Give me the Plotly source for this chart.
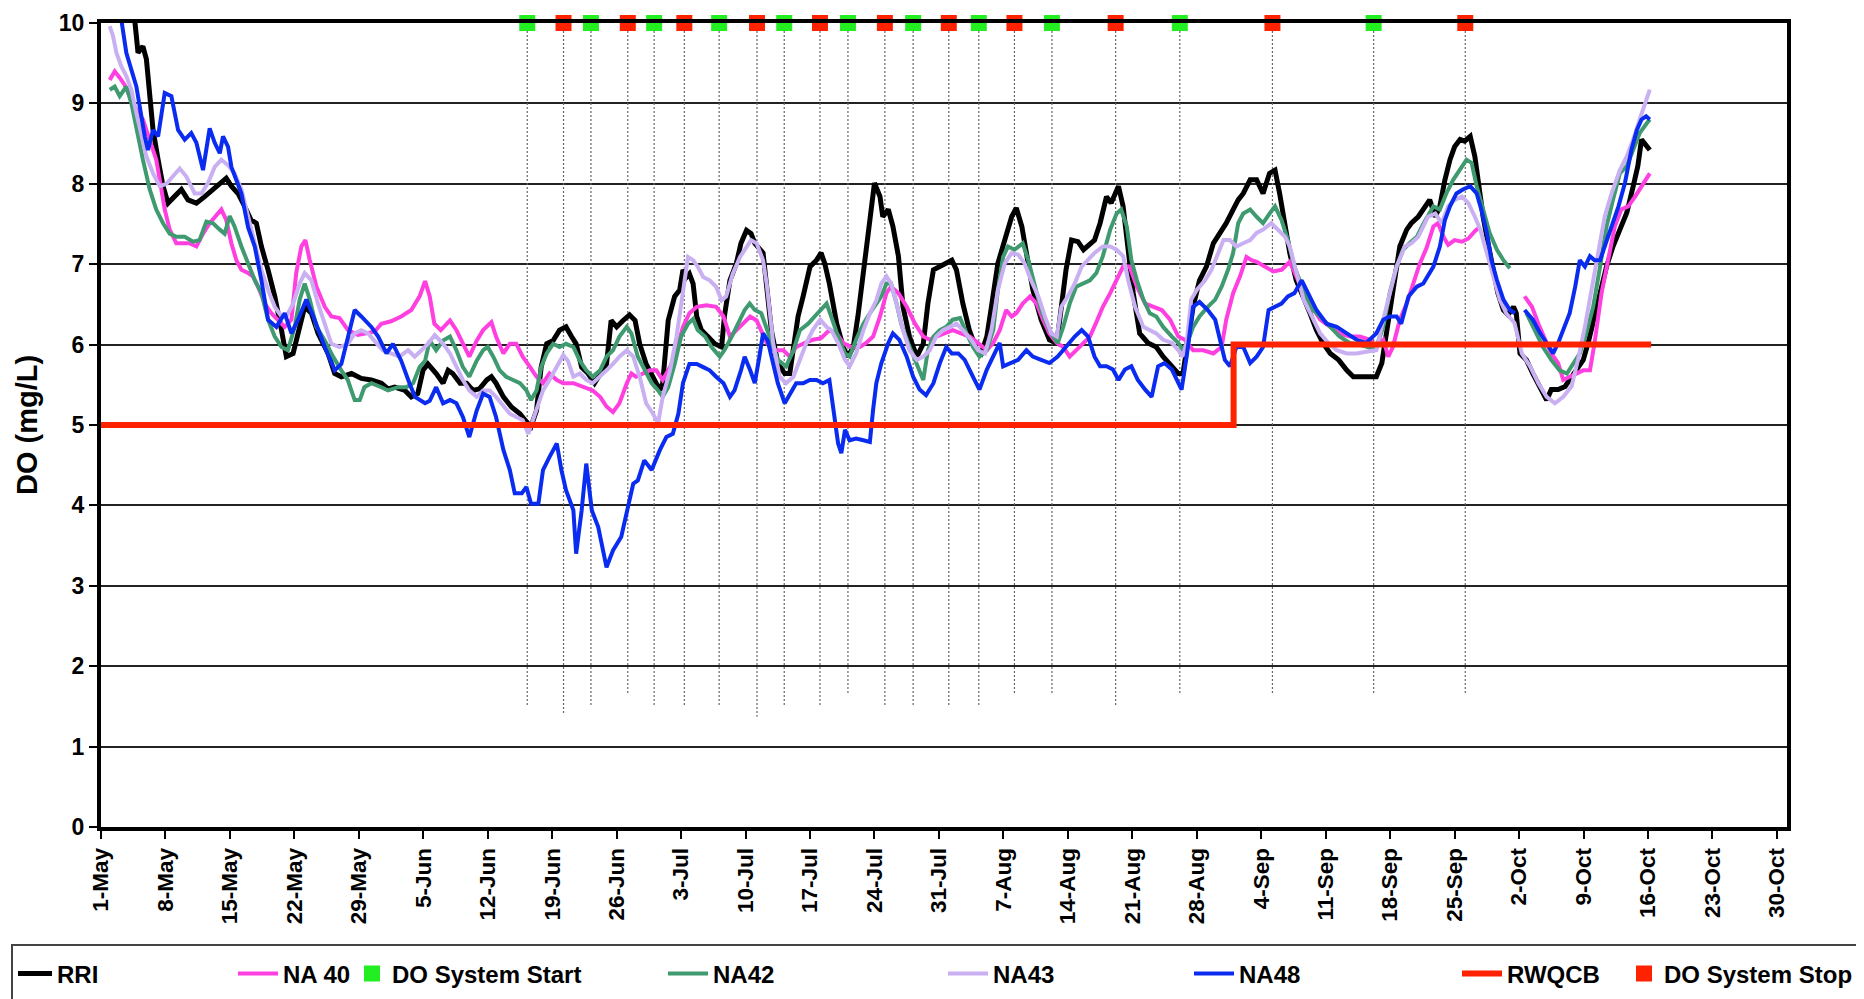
import pandas as pd
import plotly.graph_objects as go

BASE = pd.Timestamp("2007-05-01")

# ---------------- data (day offset from 1-May, DO in mg/L) ----------------
rri_day = [2.0, 3.4, 3.66, 4.02, 4.55, 4.93, 5.29, 5.65, 6.2, 6.74, 7.28, 8.0, 8.73, 9.45, 10.36, 11.26, 12.17, 12.9, 13.6, 14.16, 14.88, 15.6, 16.3, 16.87, 17.42, 18.14, 18.87, 19.6, 20.13, 20.86, 21.4, 22.12, 22.85, 23.57, 24.66, 25.38, 26.1, 27.2, 28.27, 29.36, 30.45, 31.17, 31.9, 33.0, 33.7, 34.4, 34.97, 35.5,
           36.4, 37.15, 37.7, 38.2, 39.0, 39.7, 40.4, 41.1, 41.9, 42.4, 42.9, 43.7, 44.6, 45.5, 46.2, 46.7, 47.3, 47.8, 48.4, 49.1, 49.8, 50.5, 51.1, 51.6, 52.2, 52.9, 53.6, 54.2, 54.9, 55.4, 56.0, 56.7, 57.4, 58.0, 58.5, 59.2, 59.95, 60.7, 61.0, 61.6, 62.3, 62.85, 63.2, 63.6, 63.9, 64.3, 64.7, 65.2, 65.9, 66.65, 67.4, 67.7, 68.3, 69.0, 69.5, 70.1, 70.6, 71.0,
           71.9, 72.3, 72.8, 73.5, 74.25, 74.8, 75.2, 75.7, 76.25, 77.0, 77.7, 78.2, 78.6, 79.1, 79.9, 80.6, 81.1, 81.7, 82.2, 82.9, 83.5, 84.0, 84.6, 84.9, 85.5, 86.0, 86.6, 87.1, 87.8, 88.6, 89.3, 89.8, 90.4, 91.1, 91.8, 92.4, 92.9, 93.6, 94.3, 95.1, 95.6, 96.2, 96.7, 97.4, 98.15, 98.9, 99.4, 100.0, 100.5, 101.2, 102.1, 103.0, 103.8, 104.3, 104.8, 105.4, 106.1, 106.7, 107.4,
           107.9, 108.5, 109.2, 109.7, 110.5, 111.0, 111.55, 112.1, 112.8, 113.7, 114.6, 115.35, 116.3, 117.0, 117.5, 118.1, 118.6, 119.3, 120.05, 120.8, 121.5, 122.2, 122.95, 123.5, 124.05, 124.8, 125.5, 126.2, 126.9, 127.5, 128.0, 128.6, 129.1, 129.8, 130.6, 131.3, 132.0, 132.7, 133.5, 134.4, 135.3, 136.0, 136.9, 137.8, 138.5, 139.1, 139.6, 140.3, 141.05, 141.8, 142.3, 143.05,
           143.8, 144.3, 144.9, 145.4, 145.95, 146.5, 147.0, 147.6, 148.1, 148.7, 149.2, 149.6, 150.1, 150.7, 151.2, 151.7, 152.3, 152.8, 153.4, 153.7, 154.1, 154.8, 155.5, 156.3, 157.0, 157.5, 158.25, 159.0, 159.7, 160.4, 160.97, 161.5, 162.05, 162.8, 163.5, 164.2, 164.95, 165.7, 166.4, 166.9, 167.3, 167.7, 168.2]
rri_do = [10.6, 10.1, 10.04, 9.63, 9.71, 9.55, 9.13, 8.67, 8.3, 7.97, 7.76, 7.84, 7.93, 7.8, 7.76, 7.84, 7.93, 8.01, 8.07, 7.97, 7.88, 7.72, 7.55, 7.51, 7.22, 6.93, 6.6, 6.18, 5.85, 5.89, 6.14, 6.47, 6.39, 6.14, 5.89, 5.64, 5.6, 5.64, 5.58, 5.56, 5.52, 5.45, 5.47, 5.43, 5.35, 5.39, 5.68, 5.76,
          5.64, 5.52, 5.68, 5.64, 5.52, 5.52, 5.43, 5.45, 5.56, 5.6, 5.52, 5.35, 5.22, 5.14, 5.04, 4.98, 5.18, 5.72, 6.01, 6.05, 6.18, 6.22, 6.1, 6.01, 5.72, 5.64, 5.52, 5.64, 5.76, 6.3, 6.22, 6.3, 6.37, 6.3, 6.01, 5.76, 5.6, 5.43, 5.52, 6.3, 6.6, 6.68, 6.93, 6.84, 6.88, 6.76, 6.35, 6.18, 6.1, 6.01, 5.97, 6.35, 6.8, 7.01, 7.26, 7.42, 7.38, 7.26,
          7.14, 6.68, 6.18, 5.77, 5.64, 5.64, 5.97, 6.35, 6.6, 6.97, 7.05, 7.14, 7.01, 6.76, 6.26, 5.97, 5.85, 5.97, 6.35, 7.01, 7.59, 8.01, 7.84, 7.59, 7.68, 7.47, 7.1, 6.47, 6.1, 5.85, 6.01, 6.51, 6.93, 6.97, 7.01, 7.05, 6.93, 6.51, 6.18, 5.93, 5.89, 6.1, 6.47, 7.01, 7.3, 7.59, 7.7, 7.47, 7.14, 6.68, 6.31, 6.06, 6.02, 6.51, 6.93, 7.3, 7.28, 7.18, 7.26,
          7.3, 7.51, 7.84, 7.76, 7.97, 7.72, 7.14, 6.64, 6.14, 6.02, 5.97, 5.85, 5.73, 5.64, 5.64, 6.1, 6.47, 6.8, 6.97, 7.26, 7.39, 7.51, 7.68, 7.8, 7.88, 8.05, 8.05, 7.88, 8.13, 8.17, 7.88, 7.47, 7.14, 6.8, 6.6, 6.39, 6.18, 6.02, 5.89, 5.81, 5.68, 5.6, 5.6, 5.6, 5.6, 5.77, 6.14, 6.72, 7.22, 7.43, 7.51, 7.59,
          7.72, 7.8, 7.59, 7.72, 8.05, 8.3, 8.46, 8.55, 8.53, 8.59, 8.34, 7.97, 7.59, 7.22, 6.89, 6.64, 6.43, 6.37, 6.47, 6.39, 5.89, 5.81, 5.64, 5.48, 5.31, 5.44, 5.44, 5.48, 5.6, 5.73, 5.81, 6.02, 6.31, 6.64, 6.97, 7.22, 7.43, 7.64, 7.97, 8.22, 8.55, 8.5, 8.42]

na40_day = [0.95, 1.49, 2.03, 2.57, 3.12, 4.02, 4.55, 5.29, 6.0, 6.56, 6.92, 7.46, 8.18, 8.9, 9.6, 10.36, 11.08, 11.8, 12.5, 13.07, 13.6, 14.16, 14.7, 15.25, 15.97, 16.5, 17.06, 17.8, 18.5, 19.2, 19.95, 20.68, 21.2, 21.76, 22.2, 22.67, 23.4, 24.3, 25.02, 25.9, 26.83, 27.9, 28.6, 29.7, 30.45, 31.5, 32.6, 33.7, 34.6, 35.2,
            35.7, 36.2, 36.9, 37.9, 38.6, 39.3, 40.0, 40.8, 41.5, 42.4, 42.9, 43.7, 44.4, 45.1, 45.8, 46.6, 47.3, 48.0, 48.7, 49.5, 50.2, 51.3, 52.35, 53.4, 54.2, 54.9, 55.6, 56.3, 57.1, 57.6, 58.1, 58.9, 59.6, 60.3, 61.0, 61.8, 62.5, 63.2, 63.9, 64.7, 65.75, 66.8, 67.6, 68.3, 69.0, 69.7, 70.5, 71.2,
            72.3, 73.2, 74.1, 74.8, 75.5, 76.4, 77.3, 78.2, 79.1, 79.9, 80.6, 81.5, 82.4, 83.1, 83.85, 84.6, 85.3, 85.8, 86.6, 87.5, 88.4, 89.3, 90.0, 90.7, 91.6, 92.5, 93.4, 94.35, 95.25, 96.2, 96.9, 97.6, 98.3, 98.9, 99.4, 100.1, 100.9, 101.6, 102.3, 103.0, 103.8, 104.5, 105.2, 105.9, 106.7, 107.4,
            108.1, 108.8, 109.6, 110.3, 111.0, 111.7, 112.5, 113.4, 114.3, 115.2, 116.1, 117.0, 117.7, 118.6, 119.7, 120.8, 121.7, 122.2, 122.95, 123.7, 124.4, 124.95, 125.5, 126.4, 127.3, 128.2, 129.1, 129.8, 130.6, 131.5, 132.4, 133.5, 134.5, 135.6, 136.7, 137.8, 138.5, 139.25, 139.8, 140.3, 141.05, 141.8, 142.5, 143.2, 143.95, 144.7, 145.2, 145.8, 146.3, 147.0, 147.8, 148.5, 149.2, 149.6,
            151.5,
            154.6, 155.4, 156.1, 156.8, 157.5, 158.25, 158.8, 159.5, 160.2, 160.97, 161.7, 162.2, 162.96, 163.7, 164.4, 165.1, 165.85, 166.6, 167.3, 167.85, 168.2]
na40_do = [9.29, 9.4, 9.32, 9.23, 9.09, 8.88, 8.8, 8.55, 8.3, 7.93, 7.68, 7.43, 7.26, 7.26, 7.26, 7.22, 7.38, 7.51, 7.6, 7.68, 7.55, 7.26, 7.05, 6.93, 6.89, 6.85, 6.72, 6.51, 6.39, 6.31, 6.22, 6.31, 6.89, 7.22, 7.3, 7.05, 6.72, 6.47, 6.35, 6.33, 6.18, 6.12, 6.14, 6.16, 6.26, 6.29, 6.35, 6.43, 6.6, 6.79,
           6.6, 6.26, 6.18, 6.3, 6.18, 6.01, 5.85, 6.05, 6.18, 6.28, 6.1, 5.89, 6.01, 6.01, 5.85, 5.72, 5.6, 5.52, 5.64, 5.56, 5.52, 5.52, 5.47, 5.43, 5.35, 5.23, 5.16, 5.27, 5.52, 5.64, 5.6, 5.64, 5.68, 5.68, 5.56, 5.72, 5.93, 6.22, 6.39, 6.47, 6.49, 6.47, 6.35, 6.1, 6.18, 6.26, 6.35, 6.3,
           6.02, 5.93, 5.93, 5.85, 5.97, 6.02, 6.06, 6.08, 6.18, 6.14, 6.02, 5.97, 5.97, 6.02, 6.1, 6.35, 6.64, 6.72, 6.64, 6.47, 6.26, 6.1, 6.06, 6.1, 6.14, 6.18, 6.14, 6.1, 6.02, 5.93, 6.02, 6.18, 6.43, 6.35, 6.39, 6.51, 6.6, 6.51, 6.31, 6.14, 6.02, 5.97, 5.85, 5.93, 6.02, 6.1,
           6.28, 6.47, 6.64, 6.8, 6.97, 6.97, 6.72, 6.51, 6.47, 6.43, 6.31, 6.1, 6.06, 5.93, 5.93, 5.89, 5.97, 6.31, 6.64, 6.85, 7.09, 7.05, 7.03, 6.97, 6.91, 6.93, 7.03, 6.85, 6.64, 6.47, 6.31, 6.22, 6.14, 6.1, 6.1, 6.06, 5.97, 6.06, 5.85, 5.97, 6.31, 6.51, 6.76, 7.0, 7.2, 7.47, 7.51, 7.34, 7.24, 7.3, 7.28, 7.32, 7.41, 7.45,
           None,
           6.6, 6.47, 6.26, 6.06, 5.89, 5.77, 5.56, 5.6, 5.64, 5.68, 5.68, 6.02, 6.64, 7.05, 7.47, 7.68, 7.72, 7.84, 7.97, 8.05, 8.13]

na42_day = [0.95, 1.49, 2.03, 2.75, 3.3, 3.84, 4.55, 5.29, 6.0, 6.74, 7.46, 8.18, 9.1, 10.0, 10.7, 11.44, 12.17, 12.9, 13.43, 13.98, 14.5, 15.25, 15.97, 16.7, 17.42, 18.14, 18.87, 19.6, 20.3, 21.04, 21.58, 22.12, 22.67, 23.4, 24.3, 25.2, 26.1, 26.8, 27.55, 28.1, 28.6, 29.36, 30.45, 31.17, 32.26, 33.16, 33.9, 34.6, 35.2,
            35.7, 36.4, 37.15, 37.9, 38.6, 39.3, 40.0, 40.8, 41.5, 42.0, 42.6, 43.3, 44.0, 44.75, 45.5, 46.2, 46.7, 47.3, 47.8, 48.4, 49.1, 49.8, 50.5, 51.3, 52.0, 52.7, 53.4, 54.2, 54.9, 55.6, 56.3, 57.1, 57.6, 58.3, 59.05, 59.8, 60.5, 61.0, 61.6, 62.3, 63.0, 63.75, 64.3, 64.8, 65.6, 66.3, 67.2, 67.7, 68.5, 69.2, 69.9, 70.45, 71.0, 71.7,
            72.1, 72.8, 73.5, 74.4, 75.2, 75.9, 76.8, 77.5, 78.2, 78.8, 79.3, 80.05, 80.8, 81.3, 82.0, 82.8, 83.5, 84.2, 84.75, 85.3, 85.8, 86.4, 86.9, 87.65, 88.4, 88.9, 89.3, 89.8, 90.4, 91.1, 91.8, 92.5, 93.3, 94.0, 94.7, 95.4, 96.2, 96.9, 97.4, 97.97, 98.5, 99.2, 100.1, 100.7, 101.4, 102.1, 103.0, 103.9, 104.5, 105.2, 105.9, 106.7, 107.4,
            108.1, 108.8, 109.6, 110.3, 110.8, 111.4, 111.9, 112.5, 113.2, 113.9, 114.6, 115.35, 116.3, 117.0, 117.5, 118.1, 118.6, 119.3, 120.2, 121.0, 121.7, 122.4, 122.95, 123.5, 124.05, 124.8, 125.5, 126.2, 126.9, 127.5, 128.2, 128.9, 129.6, 130.4, 131.3, 132.4, 133.5, 134.5, 135.6, 136.7, 137.8, 138.5, 139.25, 139.95, 140.7, 141.4, 142.1, 142.9, 143.6,
            144.3, 144.7, 145.4, 146.1, 146.85, 147.6, 148.3, 148.85, 149.4, 150.1, 150.8, 151.6, 152.3, 153.0,
            153.9,
            154.8, 155.7, 156.6, 157.5, 158.4, 159.2, 159.9, 160.6, 161.3, 162.05, 162.8, 163.5, 164.2, 164.95, 165.7, 166.4, 167.1, 167.85, 168.2]
na42_do = [9.17, 9.21, 9.09, 9.21, 9.0, 8.67, 8.3, 7.93, 7.68, 7.51, 7.38, 7.34, 7.34, 7.28, 7.3, 7.53, 7.51, 7.43, 7.38, 7.6, 7.47, 7.22, 7.01, 6.8, 6.64, 6.31, 6.1, 5.97, 5.93, 6.22, 6.56, 6.76, 6.56, 6.22, 6.05, 5.85, 5.68, 5.56, 5.31, 5.31, 5.47, 5.52, 5.47, 5.43, 5.47, 5.47, 5.52, 5.72, 5.8,
           6.05, 5.93, 6.05, 6.1, 5.93, 5.72, 5.6, 5.8, 5.93, 5.97, 5.85, 5.68, 5.6, 5.56, 5.52, 5.43, 5.31, 5.43, 5.72, 5.89, 6.01, 5.97, 6.01, 5.97, 5.8, 5.68, 5.6, 5.68, 5.85, 5.93, 6.1, 6.22, 6.14, 5.85, 5.68, 5.52, 5.43, 5.35, 5.47, 5.76, 6.1, 6.26, 6.32, 6.18, 6.1, 5.97, 5.85, 5.93, 6.1, 6.26, 6.43, 6.51, 6.43, 6.39,
           6.26, 6.02, 5.81, 5.73, 5.93, 6.18, 6.26, 6.35, 6.43, 6.51, 6.35, 6.1, 5.89, 5.85, 6.06, 6.26, 6.39, 6.51, 6.6, 6.76, 6.76, 6.51, 6.26, 6.02, 5.81, 5.69, 5.56, 5.93, 6.1, 6.18, 6.22, 6.31, 6.33, 6.14, 5.97, 5.85, 5.93, 6.18, 6.68, 7.09, 7.22, 7.18, 7.26, 7.05, 6.76, 6.43, 6.18, 6.02, 6.22, 6.51, 6.72, 6.76, 6.8,
           6.89, 7.1, 7.43, 7.63, 7.68, 7.47, 7.05, 6.8, 6.56, 6.39, 6.35, 6.22, 6.1, 6.02, 5.93, 6.06, 6.22, 6.35, 6.47, 6.56, 6.72, 6.93, 7.14, 7.51, 7.63, 7.68, 7.59, 7.51, 7.63, 7.72, 7.55, 7.3, 6.97, 6.72, 6.47, 6.35, 6.22, 6.1, 6.02, 6.0, 5.96, 5.97, 6.22, 6.64, 6.97, 7.18, 7.26, 7.34, 7.5,
           7.65, 7.72, 7.68, 7.88, 8.05, 8.17, 8.3, 8.26, 7.97, 7.68, 7.39, 7.18, 7.05, 6.95,
           None,
           6.39, 6.18, 5.97, 5.81, 5.68, 5.64, 5.77, 5.89, 6.14, 6.47, 6.97, 7.47, 7.8, 8.13, 8.22, 8.42, 8.63, 8.75, 8.8]

na43_day = [0.95, 1.3, 1.67, 2.21, 2.75, 3.3, 3.84, 4.38, 4.93, 5.65, 6.38, 7.1, 7.82, 8.55, 9.27, 10.18, 10.9, 11.62, 12.35, 13.07, 13.8, 14.5, 15.25, 15.97, 16.7, 17.42, 18.14, 18.87, 19.6, 20.13, 20.86, 21.58, 22.12, 22.85, 23.57, 24.3, 25.02, 25.9, 26.83, 27.55, 28.27, 29.0, 29.7, 30.6, 31.5, 32.4, 33.35, 34.07, 34.8, 35.5,
            36.25, 37.15, 37.9, 38.6, 39.3, 40.0, 40.8, 41.5, 42.2, 42.9, 43.7, 44.4, 45.1, 45.8, 46.4, 46.9, 47.5, 48.0, 48.7, 49.5, 50.2, 50.7, 51.3, 52.0, 52.7, 53.4, 54.2, 54.9, 55.6, 56.3, 57.1, 57.8, 58.5, 59.2, 59.95, 60.5, 61.0, 61.8, 62.5, 63.2, 63.75, 64.3, 64.8, 65.4, 66.1, 66.8, 67.4, 67.9, 68.6, 69.4, 70.1, 70.6, 71.2, 71.9,
            72.3, 73.0, 73.7, 74.4, 75.2, 75.9, 76.6, 77.3, 78.1, 78.8, 79.3, 80.05, 80.8, 81.3, 82.0, 82.8, 83.5, 84.2, 84.75, 85.3, 85.8, 86.4, 87.1, 87.8, 88.6, 89.3, 90.0, 90.7, 91.45, 92.2, 92.9, 93.6, 94.5, 95.25, 96.0, 96.7, 97.4, 98.15, 98.9, 99.6, 100.3, 101.0, 101.8, 102.5, 103.2, 103.8, 104.3, 105.0, 105.75, 106.5, 107.2, 107.9,
            108.8, 109.6, 110.3, 111.0, 111.55, 112.3, 113.2, 113.9, 114.6, 115.35, 116.3, 117.0, 117.45, 117.9, 118.4, 119.0, 119.9, 120.6, 121.3, 121.9, 122.6, 123.3, 124.05, 124.8, 125.5, 126.2, 127.1, 127.85, 128.6, 129.1, 129.8, 130.6, 131.5, 132.4, 133.3, 134.2, 135.3, 136.35, 137.4, 138.5, 139.25, 139.95, 140.7, 141.6, 142.3, 143.05,
            144.1, 144.9, 145.6, 146.3, 147.0, 147.8, 148.5, 149.2, 149.8, 150.5, 151.2, 151.9, 152.6, 153.5, 154.3, 155.2, 156.1, 157.0, 157.9, 158.8, 159.7, 160.4, 161.15, 161.9, 162.6, 163.3, 164.05, 164.95, 165.7, 166.4, 167.1, 167.7, 168.2]
na43_do = [9.96, 9.84, 9.63, 9.46, 9.34, 9.17, 8.88, 8.59, 8.34, 8.13, 7.97, 8.0, 8.09, 8.19, 8.09, 7.88, 7.88, 8.01, 8.21, 8.3, 8.23, 8.13, 7.93, 7.6, 7.26, 6.93, 6.68, 6.47, 6.35, 6.35, 6.51, 6.76, 6.89, 6.8, 6.51, 6.26, 6.01, 5.97, 6.01, 6.14, 6.18, 6.14, 6.05, 5.93, 5.89, 5.85, 5.93, 5.85, 5.93, 6.01,
           6.12, 6.01, 5.89, 5.72, 5.56, 5.43, 5.35, 5.43, 5.43, 5.35, 5.23, 5.14, 5.1, 5.06, 4.89, 5.06, 5.27, 5.43, 5.56, 5.72, 5.87, 5.8, 5.6, 5.64, 5.56, 5.52, 5.6, 5.68, 5.76, 5.85, 5.93, 5.85, 5.6, 5.27, 5.14, 5.02, 5.35, 5.68, 6.1, 6.68, 7.09, 7.05, 6.97, 6.84, 6.8, 6.72, 6.55, 6.6, 6.88, 7.09, 7.22, 7.3, 7.26, 7.05,
           6.75, 6.02, 5.6, 5.52, 5.6, 5.81, 6.02, 6.18, 6.31, 6.22, 6.18, 6.02, 5.81, 5.73, 5.89, 6.18, 6.39, 6.55, 6.76, 6.85, 6.76, 6.51, 6.18, 5.93, 5.81, 5.85, 5.93, 6.1, 6.18, 6.22, 6.26, 6.18, 6.06, 5.93, 5.89, 6.18, 6.68, 7.01, 7.14, 7.12, 7.01, 6.8, 6.6, 6.35, 6.14, 6.1, 6.47, 6.6, 6.76, 6.97, 7.05, 7.14,
           7.22, 7.22, 7.18, 7.1, 6.8, 6.47, 6.22, 6.18, 6.14, 6.06, 6.02, 5.93, 5.85, 6.02, 6.56, 6.68, 6.8, 6.93, 7.14, 7.3, 7.3, 7.22, 7.26, 7.3, 7.39, 7.43, 7.51, 7.43, 7.34, 7.22, 6.89, 6.56, 6.35, 6.14, 6.02, 5.93, 5.89, 5.89, 5.91, 5.93, 6.31, 6.64, 6.97, 7.22, 7.26, 7.34,
           7.59, 7.63, 7.51, 7.72, 7.8, 7.84, 7.76, 7.59, 7.43, 7.14, 6.85, 6.56, 6.39, 6.27, 5.89, 5.73, 5.52, 5.35, 5.27, 5.35, 5.48, 5.81, 6.22, 6.72, 7.18, 7.59, 7.88, 8.17, 8.34, 8.55, 8.8, 9.0, 9.17]

na48_day = [1.0, 2.21, 2.75, 3.84, 4.75, 5.1, 5.65, 6.2, 6.92, 7.64, 8.37, 9.09, 9.8, 10.36, 11.08, 11.8, 12.35, 12.9, 13.25, 13.8, 14.16, 15.25, 15.97, 16.7, 17.42, 18.14, 19.05, 19.95, 20.68, 21.4, 22.3, 23.2, 24.3, 25.38, 26.1, 26.8, 27.55, 28.27, 29.36, 30.1, 31.0, 31.7, 32.6, 33.5, 34.1, 35.2,
            35.7, 36.4, 37.15, 37.9, 38.6, 39.3, 40.0, 40.8, 41.5, 42.2, 42.9, 43.7, 44.4, 44.93, 45.7, 46.2, 46.7, 47.5, 48.0, 48.7, 49.5, 50.0, 50.5, 51.3, 51.6, 52.2, 52.7, 53.3, 54.0, 54.9, 55.6, 56.5, 57.2, 57.8, 58.3, 59.0, 59.8, 60.7, 61.4, 62.1, 62.7, 63.2, 63.9, 64.7, 65.4, 66.1, 66.8, 67.6, 68.3, 68.8, 69.5, 69.9, 70.5, 71.0, 71.5, 71.9,
            72.4, 72.8, 73.5, 74.25, 74.8, 75.5, 76.25, 76.97, 77.7, 78.4, 79.1, 79.7, 80.05, 80.4, 80.8, 81.3, 82.0, 82.8, 83.5, 83.85, 84.2, 84.75, 85.5, 86.0, 86.7, 87.5, 88.2, 88.9, 89.6, 90.4, 91.1, 91.8, 92.4, 93.1, 93.8, 94.7, 95.4, 96.2, 96.9, 97.6, 97.97, 98.7, 99.6, 100.5, 101.2, 102.1, 103.0, 103.9, 104.8, 105.75, 106.5, 107.2,
            107.9, 108.5, 109.2, 109.9, 110.5, 111.2, 111.9, 112.6, 113.4, 114.1, 114.8, 115.5, 116.3, 117.0, 117.35, 117.9, 118.6, 119.3, 120.2, 121.0, 121.5, 122.05, 122.6, 123.3, 124.05, 124.8, 125.5, 126.2, 126.8, 127.5, 128.2, 128.9, 129.6, 130.4, 131.1, 132.0, 133.1, 134.2, 135.3, 136.35, 137.4, 138.5, 139.25, 139.95, 140.7, 141.2, 142.0, 142.9, 143.6,
            144.7, 145.4, 145.95, 146.5, 147.2, 147.9, 148.7, 149.4, 149.9, 150.5, 151.0, 151.6, 152.3, 153.0, 153.55,
            154.1,
            154.6, 155.5, 156.3, 157.0, 157.7, 158.25, 158.8, 159.5, 160.1, 160.6, 161.15, 161.7, 162.2, 162.8, 163.3, 164.05, 164.8, 165.5, 166.2, 166.8, 167.3, 167.8, 168.2]
na48_do = [10.6, 10.04, 9.63, 9.21, 8.59, 8.42, 8.67, 8.59, 9.13, 9.09, 8.67, 8.55, 8.63, 8.51, 8.17, 8.69, 8.51, 8.38, 8.59, 8.46, 8.21, 7.88, 7.46, 7.22, 6.8, 6.31, 6.22, 6.39, 6.14, 6.31, 6.56, 6.31, 5.97, 5.68, 5.76, 6.1, 6.43, 6.35, 6.22, 6.1, 5.89, 6.01, 5.8, 5.52, 5.35, 5.27,
           5.3, 5.47, 5.27, 5.31, 5.27, 5.1, 4.85, 5.18, 5.39, 5.35, 5.1, 4.69, 4.44, 4.15, 4.15, 4.23, 4.02, 4.02, 4.44, 4.6, 4.77, 4.44, 4.19, 3.94, 3.4, 3.94, 4.52, 3.94, 3.73, 3.23, 3.44, 3.61, 3.94, 4.27, 4.31, 4.56, 4.44, 4.69, 4.85, 4.89, 5.14, 5.52, 5.76, 5.76, 5.72, 5.68, 5.6, 5.52, 5.35, 5.43, 5.68, 5.85, 5.68, 5.52, 5.85, 6.14,
           6.05, 5.85, 5.52, 5.27, 5.39, 5.52, 5.52, 5.56, 5.56, 5.52, 5.56, 5.1, 4.77, 4.65, 4.94, 4.81, 4.83, 4.81, 4.79, 5.19, 5.52, 5.77, 6.02, 6.14, 6.06, 5.85, 5.6, 5.44, 5.37, 5.52, 5.77, 5.97, 5.89, 5.89, 5.81, 5.6, 5.44, 5.69, 5.85, 6.02, 5.73, 5.77, 5.81, 5.93, 5.85, 5.81, 5.77, 5.85, 5.97, 6.1, 6.18, 6.1,
           5.85, 5.73, 5.73, 5.69, 5.56, 5.69, 5.73, 5.56, 5.44, 5.35, 5.73, 5.77, 5.69, 5.52, 5.44, 5.85, 6.47, 6.53, 6.43, 6.31, 6.06, 5.81, 5.73, 5.97, 5.97, 5.77, 5.85, 5.97, 6.43, 6.47, 6.51, 6.6, 6.64, 6.8, 6.64, 6.43, 6.26, 6.22, 6.14, 6.06, 6.02, 6.14, 6.31, 6.35, 6.35, 6.26, 6.6, 6.72, 6.76,
           6.97, 7.22, 7.55, 7.72, 7.88, 7.93, 7.97, 7.88, 7.68, 7.39, 7.05, 6.8, 6.56, 6.43, 6.39,
           None,
           6.43, 6.31, 6.14, 6.02, 5.89, 6.02, 6.18, 6.39, 6.72, 7.05, 6.97, 7.1, 7.05, 7.05, 7.22, 7.47, 7.72, 8.01, 8.42, 8.67, 8.8, 8.84, 8.8]

rwqcb_day = [0.0, 123.0, 168.35]
rwqcb_do = [5.0, 6.0, 6.0]

start_day = [46.29, 53.21, 60.07, 67.13, 74.2, 81.12, 88.2, 95.33, 103.27, 117.16, 138.21]
start_drop_to = [1.51, 1.51, 1.51, 1.51, 1.51, 1.66, 1.51, 1.51, 1.66, 1.66, 1.66]
stop_day = [50.23, 57.21, 63.35, 71.24, 78.08, 85.13, 92.07, 99.2, 110.19, 127.22, 148.16]
stop_drop_to = [1.41, 1.66, 1.51, 1.37, 1.51, 1.51, 1.51, 1.66, 1.51, 1.66, 1.66]
event_level = 10.0

x_range_days = [0.0, 183.1]
tick_step_days = 7

# ---------------- helpers ----------------
def dates(days):
    return [BASE + pd.Timedelta(days=d) for d in days]

FONT = "Liberation Sans, Arial, sans-serif"

fig = go.Figure()

# dotted drop lines under the event markers
dx, dy = [], []
for d, b in list(zip(start_day, start_drop_to)) + list(zip(stop_day, stop_drop_to)):
    t = BASE + pd.Timedelta(days=d)
    dx += [t, t, None]
    dy += [event_level, b, None]
fig.add_trace(go.Scatter(x=dx, y=dy, mode="lines", showlegend=False, hoverinfo="skip",
                         line=dict(color="#666666", width=1.2, dash="2px,2px")))

series = [
    ("RRI", rri_day, rri_do, "#000000", 5.0, "legend"),
    ("NA 40", na40_day, na40_do, "#ff3fe0", 4.0, "legend2"),
]
for name, d, v, col, w, lg in series:
    fig.add_trace(go.Scatter(x=dates(d), y=v, mode="lines", name=name, legend=lg,
                             line=dict(color=col, width=w), connectgaps=False))

fig.add_trace(go.Scatter(x=dates(start_day), y=[event_level] * len(start_day), mode="markers",
                         name="DO System Start", legend="legend3", cliponaxis=False,
                         marker=dict(symbol="square", size=16, color="#22ee22")))

series2 = [
    ("NA42", na42_day, na42_do, "#3f9a70", 4.0, "legend4"),
    ("NA43", na43_day, na43_do, "#c9b0f2", 4.0, "legend5"),
    ("NA48", na48_day, na48_do, "#0a2cf0", 4.0, "legend6"),
]
for name, d, v, col, w, lg in series2:
    fig.add_trace(go.Scatter(x=dates(d), y=v, mode="lines", name=name, legend=lg,
                             line=dict(color=col, width=w), connectgaps=False))

fig.add_trace(go.Scatter(x=dates(rwqcb_day), y=rwqcb_do, mode="lines", name="RWQCB", legend="legend7",
                         line=dict(color="#ff2200", width=6, shape="hv")))

fig.add_trace(go.Scatter(x=dates(stop_day), y=[event_level] * len(stop_day), mode="markers",
                         name="DO System Stop", legend="legend8", cliponaxis=False,
                         marker=dict(symbol="square", size=16, color="#ff2200")))

# page has an 8px body margin: figure is sized/offset to keep the plot area at page px 101..1787 x 23..827
W, H = 1856, 991
legend_font = dict(family=FONT, size=24, color="#000000", weight="bold")
leg_common = dict(orientation="h", xref="container", yref="container", xanchor="left", yanchor="middle",
                  y=1 - 966 / H, bgcolor="rgba(0,0,0,0)", borderwidth=0, font=legend_font)
# (left px within figure, item width)
leg_pos = {"legend": (5, 34), "legend2": (225, 40), "legend3": (344, 30), "legend4": (655, 40),
           "legend5": (935, 40), "legend6": (1181, 40), "legend7": (1449, 40), "legend8": (1616, 30)}
legends = {k: dict(leg_common, x=px / W, itemwidth=iw) for k, (px, iw) in leg_pos.items()}

ml, mr, mt, mb = 93, 77, 15, 172
plot_w, plot_h = W - ml - mr, H - mt - mb
# legend frame, in figure px: x 4..1852, top 937
fig.add_shape(type="rect", xref="paper", yref="paper",
              x0=(4 - ml) / plot_w, x1=(1852 - ml) / plot_w,
              y0=(H - mb - 1005) / plot_h, y1=(H - mb - 937) / plot_h,
              line=dict(color="#444444", width=2), fillcolor="rgba(0,0,0,0)", layer="below")

fig.update_layout(
    width=W, height=H,
    margin=dict(l=ml, r=mr, t=mt, b=mb, autoexpand=False),
    paper_bgcolor="white", plot_bgcolor="white",
    font=dict(family=FONT, color="#000000"),
    **legends,
)
fig.update_xaxes(
    type="date", range=[BASE + pd.Timedelta(days=x_range_days[0]), BASE + pd.Timedelta(days=x_range_days[1])],
    tick0=BASE, dtick=tick_step_days * 86400000, tickformat="%-d-%b", tickangle=-90,
    tickfont=dict(family=FONT, size=22.5, weight="bold"),
    ticks="outside", ticklen=8, tickwidth=2, tickcolor="#000000",
    showgrid=False, showline=True, linecolor="#000000", linewidth=4, mirror=True, zeroline=False,
    automargin=False,
)
fig.update_yaxes(
    range=[0, 10], dtick=1, tickfont=dict(family=FONT, size=23, weight="bold"),
    ticks="outside", ticklen=8, tickwidth=2, tickcolor="#000000", ticklabelstandoff=0,
    showgrid=True, gridcolor="#222222", gridwidth=1.5,
    showline=True, linecolor="#000000", linewidth=4, mirror=True, zeroline=False,
    title=dict(text="DO (mg/L)", font=dict(family=FONT, size=29, weight="bold"), standoff=14),
    automargin=False,
)

fig.write_html("out.html")
